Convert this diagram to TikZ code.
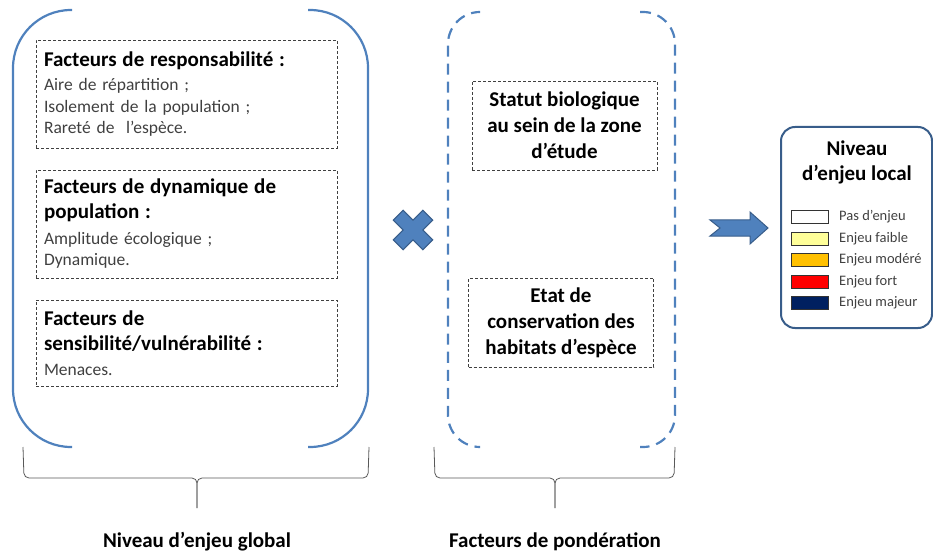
\documentclass[tikz,border=0pt]{standalone}
\usepackage{fontspec}
\setmainfont{Carlito}
\definecolor{bracketblue}{HTML}{4F81BD}
\definecolor{darkblue}{HTML}{385D8A}
\definecolor{bracegray}{HTML}{595959}
\definecolor{textgray}{HTML}{404040}
\definecolor{faible}{HTML}{FFFF99}
\definecolor{modere}{HTML}{FFC000}
\definecolor{fort}{HTML}{FF0000}
\definecolor{majeur}{HTML}{002060}
\newcommand{\headfont}{\fontsize{21}{26}\selectfont\bfseries}
\newcommand{\itemfont}{\fontsize{17.5}{21.5}\selectfont\color{textgray}}
\begin{document}
\begin{tikzpicture}[
    x=1pt, y=-1pt,
    bracket/.style={draw=bracketblue, line width=2.2pt},
    dashbracket/.style={bracket, dash pattern=on 11pt off 7pt},
    bracepath/.style={draw=bracegray, line width=0.8pt, rounded corners=5pt},
    facbox/.style={draw=black!75, densely dashed, line width=0.6pt, text width=285pt,
        minimum height=#1, align=left, inner sep=8pt,
        font=\fontsize{17.5}{21.5}\selectfont},
    weightbox/.style={draw=black!75, densely dashed, line width=0.6pt, minimum width=185pt,
        minimum height=89pt, align=center, font=\headfont, inner sep=4pt},
    bluefill/.style={fill=bracketblue, draw=darkblue, line width=1pt},
    swatch/.style={draw=black!80, line width=1pt, minimum width=37pt, minimum height=13pt, inner sep=0pt},
    caption/.style={font=\headfont}
]
\useasboundingbox (0,0) rectangle (933,553);

% global level
\draw[bracket, rounded corners=58pt] (72,10) -| (13,447) -- (72,447);
\draw[bracket, rounded corners=58pt] (308,10) -| (368,447) -- (308,447);
\node[facbox=108pt] (resp) at (186.5,94) {{\headfont Facteurs de responsabilité :}\\[3pt]
    {\itemfont Aire de répartition ;}\\
    {\itemfont Isolement de la population ;}\\
    {\itemfont Rareté de \ l’espèce.}};
\node[facbox=108pt] (dyna) at (186.5,224) {{\headfont Facteurs de dynamique de}\\[3.5pt]
    {\headfont population :}\\[4pt]
    {\itemfont Amplitude écologique ;}\\
    {\itemfont Dynamique.}};
\node[facbox=86pt] (sens) at (186.5,343) {{\headfont Facteurs de}\\[3.5pt]
    {\headfont sensibilité/vulnérabilité :}\\[4pt]
    {\itemfont Menaces.}};

% weighting
\draw[dashbracket, rounded corners=32pt] (478,12) -| (448,447) -- (478,447);
\draw[dashbracket, rounded corners=32pt] (640,12) -| (675,447) -- (640,447);
\node[weightbox] (statut) at (564.5,125.5) {Statut biologique\\ au sein de la zone\\ d’étude};
\node[weightbox] (etat) at (561,322.5) {Etat de\\ conservation des\\ habitats d’espèce};

% times sign
\draw[bluefill, shift={(413,230)}, rotate=45]
    (-7,-21) -- (7,-21) -- (7,-7) -- (21,-7) -- (21,7) -- (7,7) -- (7,21)
    -- (-7,21) -- (-7,7) -- (-21,7) -- (-21,-7) -- (-7,-7) -- cycle;

% result arrow
\draw[bluefill] (710,220) -- (750,220) -- (750,212) -- (768,228) -- (750,244)
    -- (750,236) -- (710,236) -- (720,228) -- cycle;

% local level
\draw[darkblue, line width=2pt, rounded corners=14pt] (781,127) rectangle (932,328);
\node[font=\fontsize{21}{25}\selectfont\bfseries, align=center] (local) at (857,162) {Niveau\\ d’enjeu local};
\foreach \col/\lab [count=\i] in {white/Pas d’enjeu, faible/Enjeu faible, modere/Enjeu modéré,
        fort/Enjeu fort, majeur/Enjeu majeur} {
    \node[swatch, fill=\col] (sw\i) at (809.5,{195.5+21.5*\i}) {};
    \node[anchor=west, font=\fontsize{14.5}{16}\selectfont, text=textgray, inner sep=0pt]
        (lab\i) at (839,{195.5+21.5*\i}) {\lab};
}

% braces
\draw[bracepath] (23,447) -- (24,478) -- (197,478) -- (197,508);
\draw[bracepath] (369,447) -- (368,478) -- (197,478) -- (197,508);
\draw[bracepath] (434,447) -- (435,478) -- (555,478) -- (555,508);
\draw[bracepath] (675,447) -- (674,478) -- (555,478) -- (555,508);
\coordinate (gtip) at (197,508);
\coordinate (ptip) at (555,508);
\node[caption] (global) at (197,542) {Niveau d’enjeu global};
\node[caption] (ponder) at (555,542) {Facteurs de pondération};
\end{tikzpicture}
\end{document}
